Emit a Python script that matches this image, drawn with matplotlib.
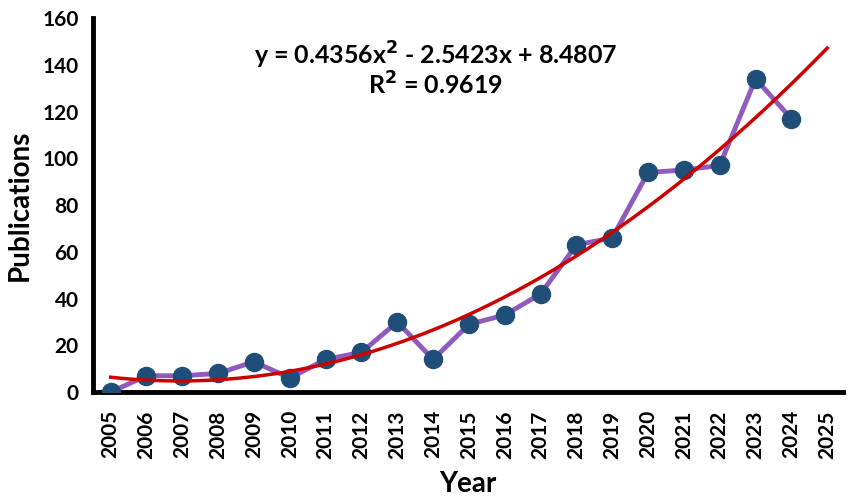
import matplotlib.pyplot as plt
import numpy as np

plt.rcParams['font.family'] = ['Lato', 'DejaVu Sans']

years = [2005, 2006, 2007, 2008, 2009, 2010, 2011, 2012, 2013, 2014,
         2015, 2016, 2017, 2018, 2019, 2020, 2021, 2022, 2023, 2024]
pubs = [0, 7, 7, 8, 13, 6, 14, 17, 30, 14,
        29, 33, 42, 63, 66, 94, 95, 97, 134, 117]
tick_years = list(range(2005, 2026))

# quadratic trend as reported on the chart (x = 1 for 2005)
a, b, c = 0.4356, -2.5423, 8.4807

fig = plt.figure(figsize=(8.51, 5.04), dpi=100)
ax = fig.add_axes([0.109, 0.222, 0.882, 0.742])

ax.plot(years, pubs, '-', color='#8f5bbf', lw=3.5, zorder=2)
ax.plot(years, pubs, 'o', color='#1f4e79', ms=13, zorder=3)

xs = np.linspace(2005, 2025, 200)
xi = xs - 2004
ax.plot(xs, a*xi**2 + b*xi + c, '-', color='#cc0000', lw=2.5, zorder=4)

ax.text(0.457, 0.9, r'y = 0.4356x$^\mathbf{2}$ - 2.5423x + 8.4807',
        transform=ax.transAxes, ha='center', va='center',
        fontsize=18, fontweight='bold')
ax.text(0.457, 0.82, r'R$^\mathbf{2}$ = 0.9619', transform=ax.transAxes,
        ha='center', va='center', fontsize=18, fontweight='bold')

ax.set_xlim(2004.5, 2025.45)
ax.set_ylim(0, 160)
ax.set_xticks(tick_years)
ax.set_xticklabels([str(y) for y in tick_years], rotation=90)
ax.set_yticks(range(0, 161, 20))
ax.tick_params(length=0, labelsize=15)
ax.tick_params(axis='x', pad=13)
ax.tick_params(axis='y', pad=10)
for lab in ax.get_xticklabels() + ax.get_yticklabels():
    lab.set_fontweight('bold')

for s in ['top', 'right']:
    ax.spines[s].set_visible(False)
for s in ['left', 'bottom']:
    ax.spines[s].set_linewidth(3.5)

ax.set_xlabel('Year', fontsize=20, fontweight='bold')
ax.set_ylabel('Publications', fontsize=20, fontweight='bold')
ax.xaxis.set_label_coords(0.5, -0.21)
ax.yaxis.set_label_coords(-0.08, 0.5)

plt.savefig('out.png', dpi=100)
